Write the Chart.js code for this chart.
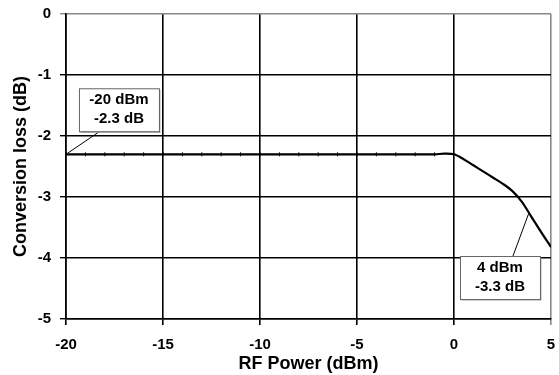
<!DOCTYPE html>
<html>
<head>
<meta charset="utf-8">
<script src="https://cdn.jsdelivr.net/npm/chart.js@4"></script>
<style>
  html, body { margin: 0; padding: 0; background: #fff; }
  #wrap { width: 559px; height: 375px; position: relative; }
</style>
</head>
<body>
<div id="wrap"><canvas id="lossChart"></canvas></div>
<script>
// RF power (dBm) and conversion loss (dB)
const rfPower = [-20, -19, -18, -17, -16, -15, -14, -13, -12, -11, -10, -9, -8, -7, -6, -5, -4, -3, -2, -1, -0.5, 0, 0.5, 1, 1.5, 2, 2.5, 3, 3.5, 4, 4.5, 5];
const convLoss = [-2.3, -2.3, -2.3, -2.3, -2.3, -2.3, -2.3, -2.3, -2.3, -2.3, -2.3, -2.3, -2.3, -2.3, -2.3, -2.3, -2.3, -2.3, -2.3, -2.3, -2.29, -2.3, -2.38, -2.48, -2.58, -2.68, -2.78, -2.9, -3.08, -3.33, -3.58, -3.82];

// callouts: text, box centre (data units), leader end (data point)
const calloutText = [['-20 dBm', '-2.3 dB'], ['4 dBm', '-3.3 dB']];
const calloutBox = [[-17.27, -1.57], [2.37, -4.32]];
const calloutTarget = [[-20, -2.3], [3.85, -3.27]];

const calloutPlugin = {
    id: 'callouts',
    afterDatasetsDraw(chart) {
        const c = chart.ctx, xs = chart.scales.x, ys = chart.scales.y;
        c.save();
        c.font = 'bold 15px "Liberation Sans", Arial, sans-serif';
        calloutText.forEach((lines, i) => {
            const cx = xs.getPixelForValue(calloutBox[i][0]);
            const cy = ys.getPixelForValue(calloutBox[i][1]);
            const w = 80, h = 43;
            const tx = xs.getPixelForValue(calloutTarget[i][0]);
            const ty = ys.getPixelForValue(calloutTarget[i][1]);
            // leader line from box edge toward the point
            const sx = i === 0 ? cx - 19 : cx + 13;
            const sy = i === 0 ? cy + h / 2 : cy - h / 2;
            c.strokeStyle = '#000';
            c.lineWidth = 1;
            c.beginPath();
            c.moveTo(sx, sy);
            c.lineTo(tx, ty);
            c.stroke();
            // shadow + box
            c.fillStyle = '#aaa';
            c.fillRect(cx - w / 2 + 1.5, cy - h / 2 + 1.5, w, h);
            c.fillStyle = '#fff';
            c.fillRect(cx - w / 2, cy - h / 2, w, h);
            c.strokeStyle = '#666';
            c.strokeRect(cx - w / 2 + 0.5, cy - h / 2 + 0.5, w, h);
            c.fillStyle = '#000';
            c.textAlign = 'center';
            c.textBaseline = 'middle';
            c.fillText(lines[0], cx, cy - 10);
            c.fillText(lines[1], cx, cy + 9);
        });
        c.restore();
    }
};

const font = { family: '"Liberation Sans", Arial, sans-serif', weight: 'bold', size: 15 };

new Chart(document.getElementById('lossChart'), {
    type: 'line',
    data: {
        datasets: [{
            data: rfPower.map((x, i) => ({ x: x, y: convLoss[i] })),
            borderColor: '#000',
            borderWidth: 2.2,
            tension: 0.3,
            pointStyle: 'line',
            rotation: 90,
            pointRadius: ctx => Number.isInteger(rfPower[ctx.dataIndex]) && rfPower[ctx.dataIndex] < 0 ? 2 : 0,
            pointBorderWidth: 1,
            pointBorderColor: '#000'
        }]
    },
    options: {
        responsive: true,
        maintainAspectRatio: false,
        animation: false,
        layout: { padding: { top: 14, right: 8, left: 0, bottom: 0 } },
        plugins: { legend: { display: false }, tooltip: { enabled: false } },
        scales: {
            x: {
                type: 'linear', min: -20, max: 5,
                ticks: { stepSize: 5, color: '#000', font: font, padding: 11, maxRotation: 0 },
                grid: { color: ctx => ctx.tick && ctx.tick.value === 5 ? '#888' : '#000', lineWidth: 1.6, tickLength: 6 },
                border: { color: '#000', width: 1.6 },
                title: { display: true, text: 'RF Power (dBm)', color: '#000', font: { ...font, size: 18 }, padding: { top: 0, bottom: 0 } },
                afterFit: s => { s.height = 56; s.paddingLeft = 0; s.paddingRight = 0; }
            },
            y: {
                min: -5, max: 0,
                ticks: { stepSize: 1, color: '#000', font: font, padding: 9 },
                grid: { color: ctx => ctx.tick && ctx.tick.value === 0 ? '#888' : '#000', lineWidth: 1.4, tickLength: 6 },
                border: { color: '#000', width: 1.6 },
                title: { display: true, text: 'Conversion loss (dB)', color: '#000', font: { ...font, size: 18 }, padding: { top: 10, bottom: 0 } },
                afterFit: s => { s.width = 66; s.paddingTop = 0; s.paddingBottom = 0; }
            }
        }
    },
    plugins: [calloutPlugin]
});
</script>
</body>
</html>
